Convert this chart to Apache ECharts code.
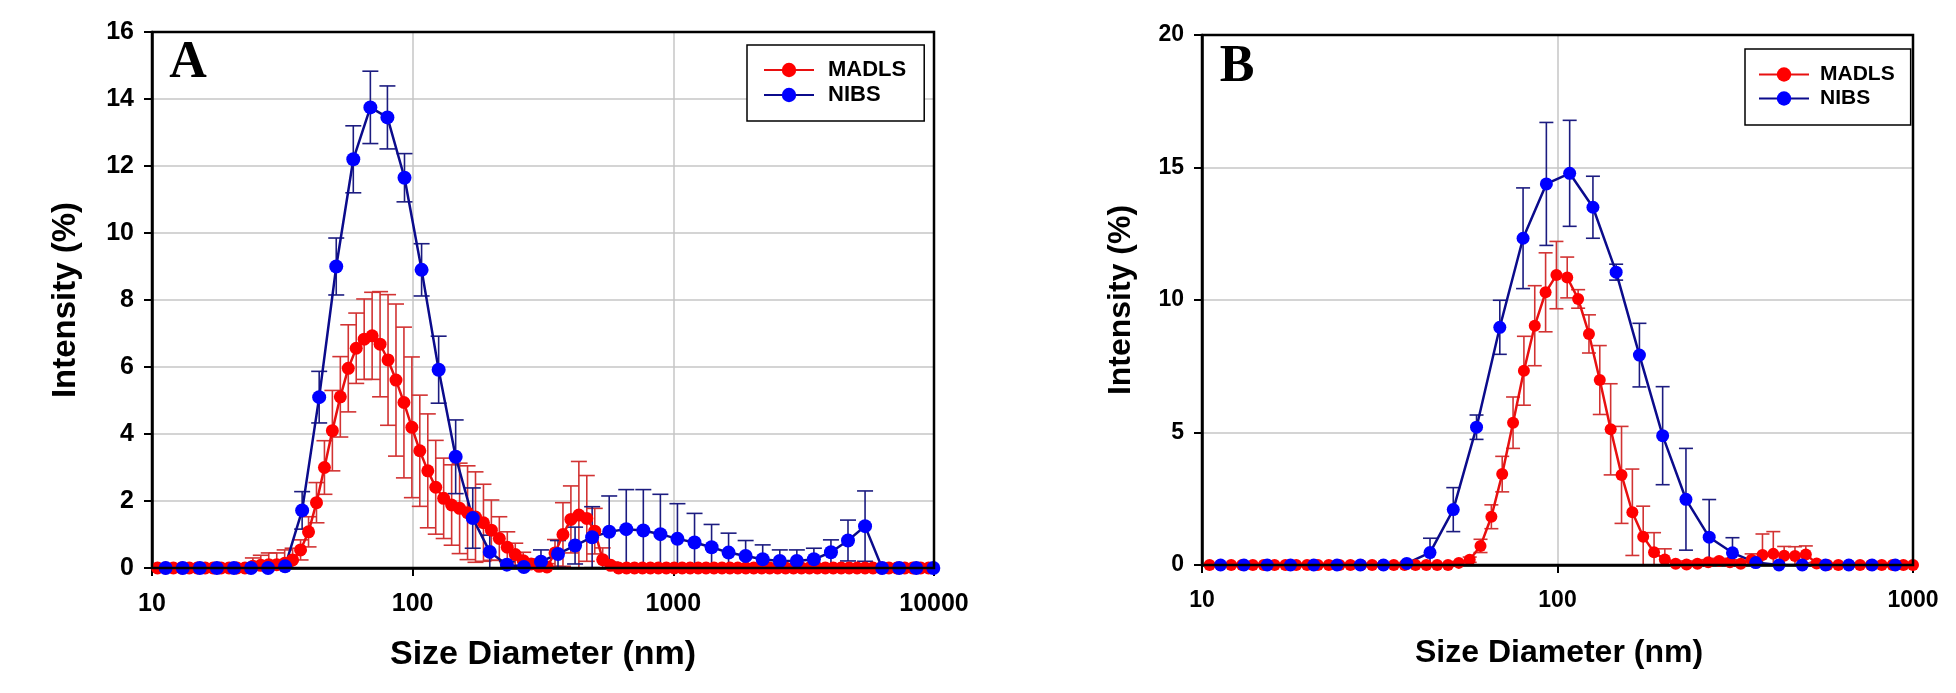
<!DOCTYPE html>
<html><head><meta charset="utf-8">
<script src="https://cdn.jsdelivr.net/npm/echarts@6/dist/echarts.min.js"></script>
<style>html,body{margin:0;padding:0;background:#fff}#c{width:1956px;height:693px}</style>
</head><body><div id="c"></div>
<script>
// ---------- DATA ----------
// Panel A
const xTicksA = [10, 100, 1000, 10000];
const yTicksA = [0, 2, 4, 6, 8, 10, 12, 14, 16];
const nibsA_x = [11.28,13.12,15.26,17.74,20.62,23.98,27.88,32.40,37.67,43.79,50.91,59.19,68.82,80.01,93.04,108.2,125.8,146.2,170.0,197.6,229.8,267.1,310.6,361.1,419.8,488.1,567.5,659.8,767.1,891.9,1037,1206,1402,1629,1894,2202,2561,2977,3461,4024,4678,5439,6324,7352,8548,9938];
const nibsA_y = [0,0,0,0,0,0,0,0.05,1.72,5.1,9.0,12.2,13.75,13.45,11.65,8.9,5.92,3.32,1.49,0.48,0.1,0.03,0.19,0.42,0.67,0.92,1.08,1.16,1.12,1.01,0.87,0.76,0.62,0.46,0.36,0.26,0.21,0.21,0.26,0.47,0.82,1.25,0,0,0,0];
const nibsA_err = [0,0,0,0,0,0,0,0,0.56,0.77,0.85,1.0,1.08,0.94,0.72,0.78,1.0,1.1,0.9,0.5,0.1,0.05,0.35,0.4,0.55,0.91,1.07,1.18,1.22,1.19,1.05,0.87,0.68,0.58,0.46,0.43,0.33,0.33,0.33,0.37,0.61,1.05,0,0,0,0];
const madlsA_x = [10.50,11.26,12.08,12.96,13.90,14.91,16.00,17.16,18.41,19.75,21.18,22.73,24.38,26.15,28.05,30.10,32.28,34.63,37.15,39.86,42.76,45.87,49.20,52.78,56.62,60.74,65.16,69.90,74.99,80.45,86.30,92.58,99.31,106.5,114.3,122.6,131.5,141.1,151.4,162.4,174.2,186.9,200.4,215.0,230.7,247.5,265.5,284.8,305.5,327.7,351.6,377.2,404.6,434.1,465.6,499.5,535.8,574.8,616.6,661.5,709.6,761.2,816.6,876.0,939.7,1008,1081,1160,1245,1335,1432,1537,1648,1768,1897,2035,2183,2342,2512,2695,2891,3101,3327,3569,3828,4107,4406,4726,5070,5439,5834,6259,6714,7202,7727,8288,8892,9539];
const madlsA_y = [0,0,0,0,0,0,0,0,0,0,0,0,0.05,0.08,0.1,0.1,0.14,0.24,0.54,1.08,1.95,3.0,4.1,5.11,5.96,6.56,6.83,6.93,6.68,6.21,5.61,4.94,4.2,3.5,2.9,2.41,2.08,1.88,1.78,1.65,1.52,1.35,1.13,0.88,0.62,0.4,0.22,0.12,0.05,0.03,0.45,1.0,1.45,1.58,1.48,1.1,0.25,0.08,0,0,0,0,0,0,0,0,0,0,0,0,0,0,0,0,0,0,0,0,0,0,0,0,0,0,0,0,0,0,0,0,0,0,0,0,0,0,0,0];
const madlsA_err = [0,0,0,0,0,0,0,0,0,0,0,0,0.25,0.3,0.35,0.35,0.4,0.35,0.3,0.45,0.6,0.8,1.2,1.2,1.3,1.05,1.2,1.3,1.57,1.95,2.27,2.25,2.1,1.66,1.7,1.4,1.2,1.2,1.35,1.4,1.35,1.15,0.9,0.65,0.46,0.34,0.25,0.15,0.1,0.1,0.4,0.95,1.0,1.6,1.28,0.68,0.35,0.1,0,0,0,0,0,0,0,0,0,0,0,0,0,0,0,0,0,0,0,0,0,0,0,0,0,0,0,0,0,0,0,0,0,0,0,0,0,0,0,0];

// Panel B
const xTicksB = [10, 100, 1000];
const yTicksB = [0, 5, 10, 15, 20];
const nibsB_x = [11.28,13.12,15.26,17.74,20.62,23.98,27.88,32.40,37.67,43.79,50.91,59.19,68.82,80.01,93.04,108.2,125.8,146.2,170.0,197.6,229.8,267.1,310.6,361.1,419.8,488.1,567.5,659.8,767.1,891.9];
const nibsB_y = [0,0,0,0,0,0,0,0,0.06,0.47,2.09,5.2,8.97,12.33,14.38,14.78,13.5,11.05,7.92,4.88,2.48,1.05,0.46,0.09,0,0,0,0,0,0];
const nibsB_err = [0,0,0,0,0,0,0,0,0.05,0.54,0.83,0.46,1.02,1.9,2.32,2.0,1.17,0.3,1.2,1.85,1.92,1.42,0.57,0.05,0,0,0,0,0,0];
const madlsB_x = [10.50,11.26,12.08,12.96,13.90,14.91,16.00,17.16,18.41,19.75,21.18,22.73,24.38,26.15,28.05,30.10,32.28,34.63,37.15,39.86,42.76,45.87,49.20,52.78,56.62,60.74,65.16,69.90,74.99,80.45,86.30,92.58,99.31,106.5,114.3,122.6,131.5,141.1,151.4,162.4,174.2,186.9,200.4,215.0,230.7,247.5,265.5,284.8,305.5,327.7,351.6,377.2,404.6,434.1,465.6,499.5,535.8,574.8,616.6,661.5,709.6,761.2,816.6,876.0,939.7,1000];
const madlsB_y = [0,0,0,0,0,0,0,0,0,0,0,0,0,0,0,0,0,0,0,0,0,0,0,0.08,0.2,0.72,1.82,3.43,5.37,7.33,9.03,10.29,10.94,10.85,10.04,8.72,6.98,5.12,3.4,1.99,1.07,0.48,0.21,0.05,0.02,0.05,0.1,0.15,0.1,0.05,0.2,0.38,0.42,0.35,0.34,0.4,0.06,0,0,0,0,0,0,0,0,0];
const madlsB_err = [0,0,0,0,0,0,0,0,0,0,0,0,0,0,0,0,0,0,0,0,0,0,0,0.05,0.1,0.25,0.45,0.67,0.97,1.3,1.51,1.49,1.27,0.77,0.35,0.72,1.3,1.72,1.83,1.63,1.15,0.74,0.4,0.1,0.05,0.1,0.1,0.1,0.1,0.1,0.22,0.79,0.84,0.35,0.35,0.32,0.05,0,0,0,0,0,0,0,0,0];

const seriesNames = ['MADLS', 'NIBS'];

// ---------- STYLE ----------
const FONT = '"Liberation Sans", Arial, sans-serif';
const RED = '#ff0000', RED_LINE = '#e81010', RED_ERR = '#d23333';
const BLUE = '#0000ff', BLUE_LINE = '#0b0b8c', BLUE_ERR = '#1c1c80';
const GRID_A = { left: 152, top: 32, width: 782, height: 536 };
const GRID_B = { left: 1202, top: 35, width: 711, height: 530 };

const pairs = (xs, ys) => xs.map((x, i) => [x, ys[i]]);
const triples = (xs, ys, es) => xs.map((x, i) => [x, ys[i], es[i]]);

function errRender(capHalf, color, width) {
  return function (params, api) {
    const x = api.value(0), y = api.value(1), e = api.value(2);
    if (!(e > 0)) return null;
    const low = y - e;
    const top = api.coord([x, y + e]);
    const bot = api.coord([x, Math.max(low, 0)]);
    const st = { stroke: color, lineWidth: width };
    const ch = [
      { type: 'line', shape: { x1: top[0], y1: top[1], x2: bot[0], y2: bot[1] }, style: st },
      { type: 'line', shape: { x1: top[0] - capHalf, y1: top[1], x2: top[0] + capHalf, y2: top[1] }, style: st }
    ];
    if (low >= 0) ch.push({ type: 'line', shape: { x1: bot[0] - capHalf, y1: bot[1], x2: bot[0] + capHalf, y2: bot[1] }, style: st });
    return { type: 'group', children: ch };
  };
}

function xAxisCfg(gi, ticks, fs) {
  return {
    type: 'log', logBase: 10, gridIndex: gi, min: ticks[0], max: ticks[ticks.length - 1],
    axisLine: { show: true, lineStyle: { color: '#000', width: 2.5 } },
    axisTick: { show: true, inside: false, length: 8, lineStyle: { color: '#000', width: 2 } },
    axisLabel: { fontFamily: FONT, fontWeight: 'bold', fontSize: fs, color: '#000', margin: 24,
      formatter: v => String(Math.round(v)) },
    splitLine: { show: true, lineStyle: { color: '#c6c6c6', width: 1.5 } },
    minorTick: { show: false }, minorSplitLine: { show: false }
  };
}
function yAxisCfg(gi, ticks, fs) {
  return {
    type: 'value', gridIndex: gi, min: ticks[0], max: ticks[ticks.length - 1], interval: ticks[1] - ticks[0],
    axisLine: { show: true, lineStyle: { color: '#000', width: 2.5 } },
    axisTick: { show: true, inside: false, length: 8, lineStyle: { color: '#000', width: 2 } },
    axisLabel: { fontFamily: FONT, fontWeight: 'bold', fontSize: fs, color: '#000', margin: 18 },
    splitLine: { show: true, lineStyle: { color: '#c6c6c6', width: 1.5 } }
  };
}
function lineSeries(name, gi, data, lineColor, dotColor, size) {
  return {
    type: 'line', name, xAxisIndex: gi, yAxisIndex: gi, data,
    symbol: 'circle', symbolSize: size, showSymbol: true,
    lineStyle: { color: lineColor, width: 2.5 }, itemStyle: { color: dotColor },
    emphasis: { disabled: true }, z: 3
  };
}
function errSeries(name, gi, data, color, cap) {
  return {
    type: 'custom', name: name + ' error', xAxisIndex: gi, yAxisIndex: gi, data,
    encode: { x: 0, y: 1 }, renderItem: errRender(cap, color, 1.6), z: 2, silent: true
  };
}
function legendCfg(left, top, pad, fs, gap, textPad) {
  return {
    data: seriesNames, orient: 'vertical', left, top, padding: pad,
    itemWidth: 50, itemHeight: 18, itemGap: gap,
    borderColor: '#000', borderWidth: 1.5, backgroundColor: '#fff',
    textStyle: { fontFamily: FONT, fontWeight: 'bold', fontSize: fs, color: '#000', padding: [0, 0, 0, textPad] },
    selectedMode: false, z: 20
  };
}
function txt(x, y, text, font, rot) {
  return { type: 'text', x, y, rotation: rot || 0, silent: true,
    style: { text, font, fill: '#000', align: 'center', verticalAlign: 'middle' } };
}
function frame(g) {
  return { type: 'rect', silent: true, z: 50,
    shape: { x: g.left, y: g.top, width: g.width, height: g.height },
    style: { fill: 'none', stroke: '#000', lineWidth: 2.5 } };
}

const chart = echarts.init(document.getElementById('c'), null, { renderer: 'canvas' });
chart.setOption({
  animation: false,
  backgroundColor: '#fff',
  grid: [
    Object.assign({ show: false }, GRID_A),
    Object.assign({ show: false }, GRID_B)
  ],
  xAxis: [xAxisCfg(0, xTicksA, 25), xAxisCfg(1, xTicksB, 23)],
  yAxis: [yAxisCfg(0, yTicksA, 25), yAxisCfg(1, yTicksB, 23)],
  legend: [
    legendCfg(747, 45, [14, 18, 15, 16], 22, 3, 9),
    legendCfg(1745, 49, [15, 16, 16, 13], 21, 3, 6)
  ],
  series: [
    errSeries('MADLS', 0, triples(madlsA_x, madlsA_y, madlsA_err), RED_ERR, 8),
    lineSeries('MADLS', 0, pairs(madlsA_x, madlsA_y), RED_LINE, RED, 13),
    errSeries('NIBS', 0, triples(nibsA_x, nibsA_y, nibsA_err), BLUE_ERR, 8),
    lineSeries('NIBS', 0, pairs(nibsA_x, nibsA_y), BLUE_LINE, BLUE, 14),
    errSeries('MADLS', 1, triples(madlsB_x, madlsB_y, madlsB_err), RED_ERR, 7),
    lineSeries('MADLS', 1, pairs(madlsB_x, madlsB_y), RED_LINE, RED, 12),
    errSeries('NIBS', 1, triples(nibsB_x, nibsB_y, nibsB_err), BLUE_ERR, 7),
    lineSeries('NIBS', 1, pairs(nibsB_x, nibsB_y), BLUE_LINE, BLUE, 13)
  ],
  graphic: [
    frame(GRID_A),
    frame(GRID_B),
    txt(188, 64, 'A', 'bold 52px "Liberation Serif", "Times New Roman", serif'),
    txt(1237, 68, 'B', 'bold 52px "Liberation Serif", "Times New Roman", serif'),
    txt(543, 655, 'Size Diameter (nm)', 'bold 34px ' + FONT),
    txt(1559, 653, 'Size Diameter (nm)', 'bold 32px ' + FONT),
    txt(66, 300, 'Intensity (%)', 'bold 33px ' + FONT, Math.PI / 2),
    txt(1121, 300, 'Intensity (%)', 'bold 32px ' + FONT, Math.PI / 2)
  ]
});
</script>
</body></html>
